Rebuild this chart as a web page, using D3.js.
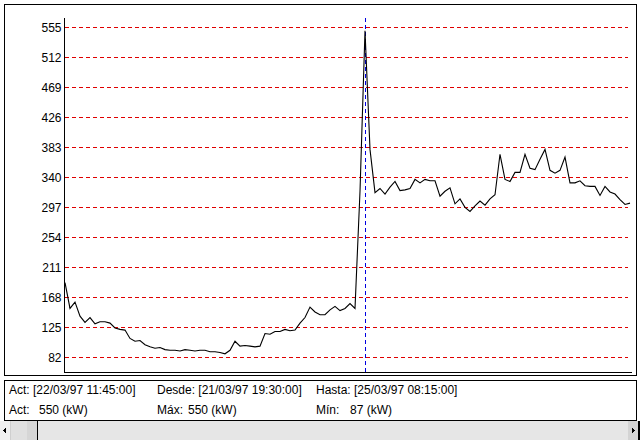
<!DOCTYPE html>
<html>
<head>
<meta charset="utf-8">
<script src="https://cdn.jsdelivr.net/npm/d3@7"></script>
<style>
  html, body { margin: 0; padding: 0; background: #fff; }
  svg { display: block; }
  text { font-family: "Liberation Sans", Arial, sans-serif; font-size: 12px; fill: #000; }
</style>
</head>
<body>
<svg id="chart" width="640" height="440"></svg>
<script>
// ---- data (kW readings, one per sample) ----
const values = [
  189, 152, 161, 141, 132, 139, 130, 133, 133, 131,
  124, 122, 121, 109, 105, 106, 100, 97, 95, 96,
  93, 92, 92, 91, 93, 92, 91, 92, 92, 90,
  90, 89, 87, 92, 105, 98, 99, 98, 97, 98,
  116, 115, 119, 119, 122, 120, 121, 131, 139, 154,
  147, 143, 143, 150, 155, 149, 152, 159, 152, 320,
  550, 380, 318, 324, 316, 326, 334, 321, 322, 324,
  337, 332, 337, 335, 335, 313, 320, 325, 302, 309,
  297, 291, 299, 306, 300, 309, 315, 373, 337, 334,
  347, 347, 373, 353, 351, 366, 380, 350, 346, 350,
  369, 332, 332, 335, 328, 327, 327, 314, 327, 319,
  316, 308, 301, 303
];
const cursorIndex = 60;
const yTicks = [82, 125, 168, 211, 254, 297, 340, 383, 426, 469, 512, 555];
const infoLabels = ["Act: [22/03/97 11:45:00]", "Desde: [21/03/97 19:30:00]", "Hasta: [25/03/97 08:15:00]"];
const statNames = ["Act:", "Máx:", "Mín:"];
const statValues = ["550 (kW)", "550 (kW)", "87 (kW)"];

const svg = d3.select("#chart");

// outer chart frame
svg.append("rect").attr("x", 4.5).attr("y", 4.5).attr("width", 632).attr("height", 371)
  .attr("fill", "#fff").attr("stroke", "#000").attr("stroke-width", 1);

const x = d3.scaleLinear().domain([0, values.length - 1]).range([65, 630]);
const y = d3.scaleLinear().domain([82, 555]).range([357.3, 27.3]);
const py = d => Math.floor(y(d)) + 0.5;

// gridlines
svg.append("g").selectAll("line").data(yTicks).join("line")
  .attr("x1", 65).attr("x2", 628)
  .attr("y1", py).attr("y2", py)
  .attr("stroke", "#e00000").attr("stroke-width", 1).attr("stroke-dasharray", "4,3")
  .attr("shape-rendering", "crispEdges");

// y axis
const yAxis = d3.axisLeft(y).tickValues(yTicks).tickSize(0).tickPadding(3);
const gy = svg.append("g").attr("transform", "translate(64.5,0)").call(yAxis);
gy.select(".domain").remove();
gy.selectAll("text").style("font-family", "'Liberation Sans', Arial, sans-serif").style("font-size", "12px").attr("fill", "#000");

// axis lines
svg.append("line").attr("x1", 64.5).attr("x2", 64.5).attr("y1", 18).attr("y2", 372.5)
  .attr("stroke", "#000").attr("shape-rendering", "crispEdges");
svg.append("line").attr("x1", 64).attr("x2", 632).attr("y1", 372.5).attr("y2", 372.5)
  .attr("stroke", "#000").attr("shape-rendering", "crispEdges");

// cursor line
svg.append("line").attr("x1", Math.round(x(cursorIndex)) + 0.5).attr("x2", Math.round(x(cursorIndex)) + 0.5)
  .attr("y1", 18).attr("y2", 372)
  .attr("stroke", "#0000e0").attr("stroke-dasharray", "4,3").attr("shape-rendering", "crispEdges");

// data line
const line = d3.line().x((d, i) => x(i)).y(d => y(d));
svg.append("path").datum(values).attr("d", line)
  .attr("fill", "none").attr("stroke", "#000").attr("stroke-width", 1.1);

// info panel
svg.append("rect").attr("x", 4.5).attr("y", 380.5).attr("width", 632).attr("height", 40)
  .attr("fill", "#fff").attr("stroke", "#000");
const colX = [9, 157, 316];
const valX = [39, 188, 350];
svg.append("g").selectAll("text").data(infoLabels).join("text")
  .attr("x", (d, i) => colX[i]).attr("y", 394).text(d => d);
svg.append("g").selectAll("text").data(statNames).join("text")
  .attr("x", (d, i) => colX[i]).attr("y", 414).text(d => d);
svg.append("g").selectAll("text").data(statValues).join("text")
  .attr("x", (d, i) => valX[i]).attr("y", 414).text(d => d);

// scrollbar
const sb = svg.append("g").attr("shape-rendering", "crispEdges");
sb.append("rect").attr("x", 0).attr("y", 421).attr("width", 640).attr("height", 19).attr("fill", "#e6e6e6");
sb.append("rect").attr("x", 0).attr("y", 421).attr("width", 11).attr("height", 19).attr("fill", "#f0f0f0");
sb.append("rect").attr("x", 11).attr("y", 421).attr("width", 27).attr("height", 19).attr("fill", "#e0e0e0");
sb.append("rect").attr("x", 27).attr("y", 421).attr("width", 10).attr("height", 19).attr("fill", "#d6d6d6");
sb.append("line").attr("x1", 37.5).attr("x2", 37.5).attr("y1", 421).attr("y2", 440).attr("stroke", "#000");
sb.append("line").attr("x1", 10.5).attr("x2", 10.5).attr("y1", 421).attr("y2", 440).attr("stroke", "#cfcfcf");
sb.append("rect").attr("x", 628).attr("y", 421).attr("width", 10).attr("height", 19).attr("fill", "#d4d4d4");
sb.append("rect").attr("x", 638).attr("y", 421).attr("width", 2).attr("height", 19).attr("fill", "#000");
sb.append("path").attr("d", "M3,430.5 L6,427.5 L6,433.5 Z").attr("fill", "#000");
sb.append("path").attr("d", "M635,430.5 L632,427.5 L632,433.5 Z").attr("fill", "#000");
</script>
</body>
</html>
